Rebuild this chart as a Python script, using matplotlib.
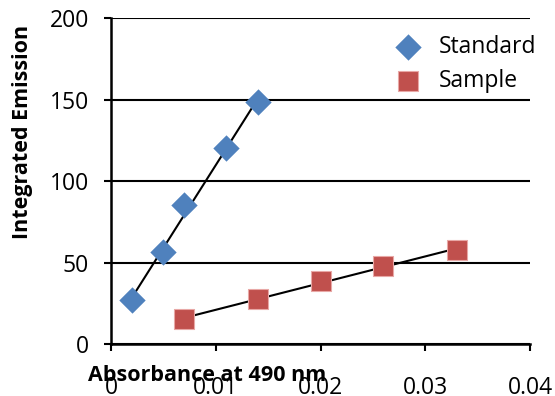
import numpy as np
import matplotlib.pyplot as plt

# absorbance / integrated emission readings
std_abs = [0.002, 0.005, 0.007, 0.011, 0.014]
std_em = [27, 56.5, 85, 120, 148.5]
smp_abs = [0.007, 0.014, 0.020, 0.026, 0.033]
smp_em = [15.3, 27.5, 38.5, 48, 57.5]

blue = '#4F81BD'
red = '#C0504D'

plt.rcParams['font.family'] = ['Open Sans', 'DejaVu Sans']

fig = plt.figure(figsize=(5.55, 3.96), dpi=100)
ax = fig.add_axes([0.2, 0.1313, 0.755, 0.8232])

# linear trendlines over each series' range
for xs, ys in [(std_abs, std_em), (smp_abs, smp_em)]:
    k, b = np.polyfit(xs, ys, 1)
    xx = np.array([min(xs), max(xs)])
    ax.plot(xx, k * xx + b, color='black', lw=1.5, zorder=2)

ax.scatter(std_abs, std_em, marker='D', s=180, color=blue, label='Standard', zorder=3, linewidths=0)
ax.scatter(smp_abs, smp_em, marker='s', s=220, color=red, label='Sample', zorder=3,
           edgecolors='#E8A8A6', linewidths=0.8)

ax.set_xlim(0, 0.04)
ax.set_ylim(0, 200)
ax.set_xticks([0, 0.01, 0.02, 0.03, 0.04])
ax.set_xticklabels(['0', '0.01', '0.02', '0.03', '0.04'])
ax.set_yticks([0, 50, 100, 150, 200])
ax.yaxis.grid(True, color='black', lw=1.5)
ax.set_axisbelow(True)
for s in ['top', 'right']:
    ax.spines[s].set_visible(False)
for s in ['left', 'bottom']:
    ax.spines[s].set_linewidth(1.8)
ax.tick_params(direction='out', length=5, width=1.5, labelsize=16.5)
ax.tick_params(axis='x', pad=18)
ax.tick_params(axis='y', pad=11)

fig.text(0.04, 0.667, 'Integrated Emission', fontsize=15.5, fontweight='bold',
         ha='center', va='center', rotation=90)
fig.text(0.373, 0.053, 'Absorbance at 490 nm', fontsize=15.5, fontweight='bold',
         ha='center', va='center')

ax.legend(loc='upper right', bbox_to_anchor=(1.065, 1.01), frameon=False, fontsize=16.5,
          handletextpad=0.35, labelspacing=0.42, scatterpoints=1)

plt.savefig('out.png')
